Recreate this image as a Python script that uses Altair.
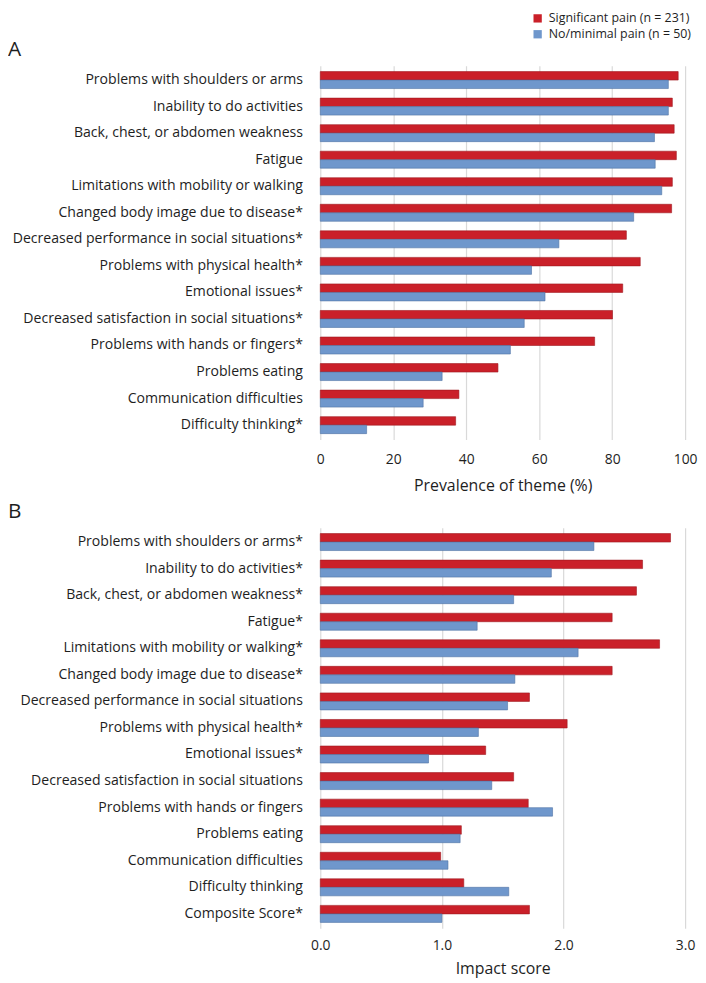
import altair as alt
import pandas as pd

SIG = "Significant pain (n = 231)"
NONE = "No/minimal pain (n = 50)"
RED = "#CA2029"
BLUE = "#6F97CC"
FONT = "Open Sans"
TXT = "#1E1E1E"

themes_a = [
    "Problems with shoulders or arms",
    "Inability to do activities",
    "Back, chest, or abdomen weakness",
    "Fatigue",
    "Limitations with mobility or walking",
    "Changed body image due to disease*",
    "Decreased performance in social situations*",
    "Problems with physical health*",
    "Emotional issues*",
    "Decreased satisfaction in social situations*",
    "Problems with hands or fingers*",
    "Problems eating",
    "Communication difficulties",
    "Difficulty thinking*",
]
sig_a = [98.1, 96.5, 97.0, 97.6, 96.5, 96.3, 83.9, 87.7, 82.9, 80.1, 75.2, 48.7, 38.0, 37.1]
none_a = [95.4, 95.4, 91.6, 91.8, 93.6, 85.9, 65.4, 57.9, 61.6, 55.9, 52.1, 33.4, 28.2, 12.7]

themes_b = [
    "Problems with shoulders or arms*",
    "Inability to do activities*",
    "Back, chest, or abdomen weakness*",
    "Fatigue*",
    "Limitations with mobility or walking*",
    "Changed body image due to disease*",
    "Decreased performance in social situations",
    "Problems with physical health*",
    "Emotional issues*",
    "Decreased satisfaction in social situations",
    "Problems with hands or fingers",
    "Problems eating",
    "Communication difficulties",
    "Difficulty thinking",
    "Composite Score*",
]
sig_b = [2.88, 2.65, 2.60, 2.40, 2.79, 2.40, 1.72, 2.03, 1.36, 1.59, 1.71, 1.16, 0.99, 1.18, 1.72]
none_b = [2.25, 1.90, 1.59, 1.29, 2.12, 1.60, 1.54, 1.30, 0.89, 1.41, 1.91, 1.15, 1.05, 1.55, 1.00]

ticks_a = [0, 20, 40, 60, 80, 100]
ticks_b = [0, 1, 2, 3]


def make_df(themes, sig, none):
    rows = []
    for t, s, n in zip(themes, sig, none):
        rows.append({"theme": t, "group": SIG, "value": s})
        rows.append({"theme": t, "group": NONE, "value": n})
    return pd.DataFrame(rows)


color = alt.Color(
    "group:N",
    scale=alt.Scale(domain=[SIG, NONE], range=[RED, BLUE]),
    legend=alt.Legend(
        title=None, orient="none", legendX=213, legendY=-54,
        labelFontSize=12.5, labelFont=FONT, labelColor=TXT,
        symbolType="square", symbolSize=70, symbolStrokeWidth=0,
        rowPadding=3, labelOffset=5,
    ),
)


def panel(df, themes, domain, tick_vals, fmt, xtitle, letter, height, lab_pad, tit_pad):
    return alt.Chart(df).mark_bar(strokeWidth=0.6).encode(
        x=alt.X(
            "value:Q",
            scale=alt.Scale(domain=domain, nice=False),
            axis=alt.Axis(
                values=tick_vals, format=fmt, title=xtitle, grid=True,
                gridColor="#D9D9D9", gridWidth=1.2, domain=False, ticks=False,
                labelFlush=False, labelPadding=lab_pad, titlePadding=tit_pad,
                labelFontSize=14, titleFontSize=16, titleFontWeight="normal",
                labelFont=FONT, titleFont=FONT, labelColor=TXT, titleColor=TXT,
            ),
        ),
        y=alt.Y(
            "theme:N", sort=themes,
            scale=alt.Scale(paddingInner=0.36, paddingOuter=0.22),
            axis=alt.Axis(
                title=None, domain=False, ticks=False, labelPadding=18,
                minExtent=315, maxExtent=315, labelLimit=330, grid=False,
                labelFontSize=14.2, labelFont=FONT, labelColor=TXT,
            ),
        ),
        yOffset=alt.YOffset("group:N", sort=[SIG, NONE], scale=alt.Scale(paddingInner=0, paddingOuter=0)),
        color=color,
        stroke=alt.Stroke("group:N", scale=alt.Scale(domain=[SIG, NONE], range=["#9E1A20", "#4F73A3"]), legend=None),
    ).properties(
        width=368, height=height,
        title=alt.Title(letter, anchor="start", frame="bounds", fontSize=21,
                        fontWeight="normal", font=FONT, color=TXT, offset=6),
    )


chart_a = panel(make_df(themes_a, sig_a, none_a), themes_a, [0, 100], ticks_a, "d",
                "Prevalence of theme (%)", "A", 377, 13, 11)
chart_b = panel(make_df(themes_b, sig_b, none_b), themes_b, [0, 3], ticks_b, ".1f",
                "Impact score", "B", 404, 10, 9)

chart = alt.vconcat(chart_a, chart_b, spacing=8).properties(padding=0).configure_view(stroke=None)

chart.save("out.html", embed_options={"renderer": "svg", "actions": False})
